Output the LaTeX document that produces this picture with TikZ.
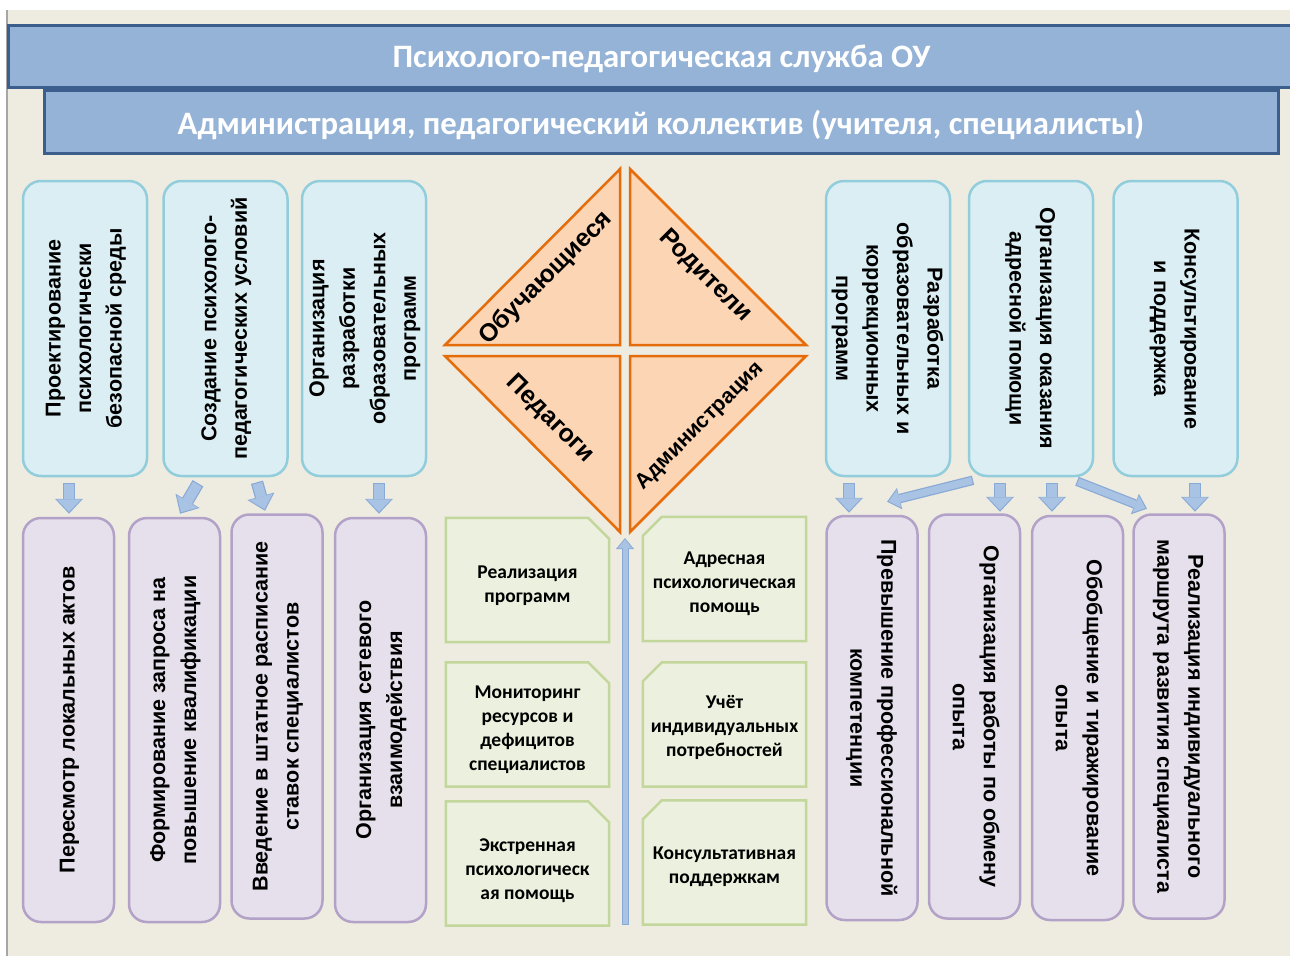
\documentclass[tikz,border=0pt]{standalone}
\usepackage{fontspec}
\setmainfont{Liberation Sans}
\newfontfamily\calib{Carlito}
\usepackage{graphicx}
\usetikzlibrary{arrows.meta,calc}
\pgfdeclarelayer{background}
\pgfsetlayers{background,main}

\definecolor{paper}{HTML}{EEECE1}
\definecolor{frameline}{HTML}{A6A6A6}
\definecolor{bannerfill}{HTML}{95B3D7}
\definecolor{bannerline}{HTML}{3B5E8C}
\definecolor{taskfill}{HTML}{DAEEF3}
\definecolor{taskline}{HTML}{92CDDC}
\definecolor{stepfill}{HTML}{E5E0EC}
\definecolor{stepline}{HTML}{B3A2C7}
\definecolor{notefill}{HTML}{EBF1DE}
\definecolor{noteline}{HTML}{C3D69B}
\definecolor{rolefill}{HTML}{FCD5B5}
\definecolor{roleline}{HTML}{E46C0A}
\definecolor{flowfill}{HTML}{A9C3E4}
\definecolor{flowline}{HTML}{8AAAD6}

\newcommand{\upwards}[1]{\rotatebox{90}{\begin{tabular}{@{}c@{}}#1\end{tabular}}}
\newcommand{\downwards}[1]{\rotatebox{-90}{\begin{tabular}{@{}c@{}}#1\end{tabular}}}
\newcommand{\lowered}[1]{\raisebox{-3pt}[\height][\depth]{#1}}

\begin{document}
\begin{tikzpicture}[x=1pt, y=-1pt,
    banner/.style={draw=bannerline, fill=bannerfill, line width=3pt, text=white,
        font=\calib\bfseries\fontsize{32.7}{38}\selectfont},
    role/.style={draw=roleline, fill=rolefill, line width=2.5pt},
    snip/.style={draw=noteline, fill=notefill, line width=2.5pt},
    flowout/.style={draw=flowline, line width=12.5pt, -{Triangle[width=28pt,length=15pt,line width=0pt]}},
    flowin/.style={draw=flowfill, line width=10pt, -{Triangle[width=24pt,length=12.5pt,line width=0pt]},
        shorten >=1.8pt, shorten <=1.2pt},
    slimout/.style={draw=flowline, line width=9.5pt, -{Triangle[width=22pt,length=13pt,line width=0pt]}},
    slimin/.style={draw=flowfill, line width=7pt, -{Triangle[width=18pt,length=10.5pt,line width=0pt]},
        shorten >=1.8pt, shorten <=1.2pt}]
    \useasboundingbox (0,0) rectangle (1290,956);
    \begin{pgfonlayer}{background}
        \fill[paper] (7,10) rectangle (1290,956);
        \draw[frameline, line width=1.5pt] (7,10) -- (7,956);
    \end{pgfonlayer}

    % headings
    \node[banner, minimum width=1307pt, minimum height=62pt] (service) at (661.5,56) {\lowered{Психолого-педагогическая служба ОУ}};
    \node[banner, minimum width=1234pt, minimum height=63pt] (staff) at (661,121.5) {\lowered{Администрация, педагогический коллектив (учителя, специалисты)}};

    % upper boxes
    \begin{scope}[every node/.style={draw=taskline, fill=taskfill, line width=2.5pt, rounded corners=18pt,
        minimum width=124pt, minimum height=295pt, inner sep=0pt, font=\bfseries\fontsize{21.5}{30.5}\selectfont}]
    \node (b1) at (85,328.5) {\upwards{Проектирование\\психологически\\безопасной  среды}};
    \node (b2) at (225.5,328.5) {\upwards{Создание  психолого-\\педагогических  условий}};
    \node (b3) at (364,328.5) {\upwards{Организация\\разработки\\образовательных\\программ}};
    \node (b4) at (888,328.5) {\downwards{Разработка\\образовательных  и\\коррекционных\\программ}};
    \node (b5) at (1031,328.5) {\downwards{Организация  оказания\\адресной  помощи}};
    \node (b6) at (1175.5,328.5) {\downwards{Консультирование\\и поддержка}};
    \end{scope}

    % lower boxes
    \begin{scope}[every node/.style={draw=stepline, fill=stepfill, line width=2.5pt, rounded corners=18pt,
        minimum width=91pt, minimum height=404pt, inner sep=0pt, font=\bfseries\fontsize{21.5}{31}\selectfont}]
    \node (p1) at (68.5,720) {\upwards{Пересмотр  локальных  актов}};
    \node (p2) at (174.5,720) {\upwards{Формирование  запроса  на\\повышение  квалификации}};
    \node (p3) at (277,716.5) {\upwards{Введение в штатное  расписание\\ставок специалистов}};
    \node (p4) at (380.5,720) {\upwards{Организация  сетевого\\взаимодействия}};
    \node (p5) at (872,718) {\downwards{Превышение  профессиональной\\компетенции}};
    \node (p6) at (974.5,716.5) {\downwards{Организация  работы  по  обмену\\опыта}};
    \node (p7) at (1077.5,718) {\downwards{Обобщение  и  тиражирование\\опыта}};
    \node (p8) at (1179,716.5) {\downwards{Реализация  индивидуального\\маршрута  развития  специалиста}};
    \end{scope}

    % participants
    \filldraw[role] (620,345) -- (620,169) -- (445,345) -- cycle;
    \filldraw[role] (630,345) -- (630,169) -- (806,345) -- cycle;
    \filldraw[role] (620,356) -- (445,356) -- (620,532) -- cycle;
    \filldraw[role] (630,356) -- (806,356) -- (630,532) -- cycle;
    \begin{scope}[every node/.style={font=\bfseries\fontsize{25}{30}\selectfont}]
    \node[rotate=45] (learners) at (546,278) {Обучающиеся};
    \node[rotate=-45] (parents) at (705,276) {Родители};
    \node[rotate=-45] (teachers) at (550,419) {Педагоги};
    \node[rotate=45, font=\bfseries\fontsize{21.5}{26}\selectfont] (admins) at (700,426) {Администрация};
    \end{scope}

    % notes (text sits a little below the middle of each card)
    \begin{scope}[every node/.style={minimum width=163pt, minimum height=124pt, inner sep=0pt, align=center,
        font=\calib\bfseries\fontsize{19.5}{24}\selectfont}]
    \node (g1) at (527.5,586) {Реализация\\программ};
    \node (g2) at (527.5,729.5) {Мониторинг\\ресурсов и\\дефицитов\\специалистов};
    \node (g3) at (527.5,870.5) {Экстренная\\психологическ\\ая помощь};
    \node (g4) at (724.5,584) {Адресная\\психологическая\\помощь};
    \node (g5) at (724.5,727.5) {Учёт\\индивидуальных\\потребностей};
    \node (g6) at (724.5,866.5) {Консультативная\\поддержкам};
    \end{scope}
    \begin{pgfonlayer}{background}
        \foreach \n/\d in {g1/6,g2/5,g3/7}
            \draw[snip] ([yshift=\d pt]\n.south west) -- ([yshift=\d pt]\n.north west)
                -- ([shift={(-21pt,\d pt)}]\n.north east) -- ([shift={(0pt,\d pt-21pt)}]\n.north east)
                -- ([yshift=\d pt]\n.south east) -- cycle;
        \foreach \n/\d in {g4/5,g5/3,g6/4}
            \draw[snip] ([yshift=\d pt]\n.south west) -- ([shift={(0pt,\d pt-19pt)}]\n.north west)
                -- ([shift={(19pt,\d pt)}]\n.north west) -- ([yshift=\d pt]\n.north east)
                -- ([yshift=\d pt]\n.south east) -- cycle;
    \end{pgfonlayer}

    % central arrow
    \coordinate (rise) at (625,925);
    \coordinate (apex) at (625,538);
    \draw[draw=flowline, line width=7pt, -{Triangle[width=18pt,length=11pt,line width=0pt]}] (rise) -- (apex);
    \draw[draw=flowfill, line width=5pt, -{Triangle[width=14.5pt,length=9pt,line width=0pt]},
        shorten >=1.4pt, shorten <=1pt] (rise) -- (apex);

    % arrows between boxes
    \coordinate (t1) at ($(b1.south)+(-16,6)$);    \coordinate (h1) at ($(p1.north)+(0.5,-3)$);
    \coordinate (t2) at ($(b2.south)+(-27.5,6)$);  \coordinate (h2) at ($(p2.north)+(5.5,-3)$);
    \coordinate (t3) at ($(b2.south)+(31.5,5)$);   \coordinate (h3) at ($(p3.north)+(-12,-2.5)$);
    \coordinate (t4) at ($(b3.south)+(15,6)$);     \coordinate (h4) at ($(p4.north)+(-1.5,-3)$);
    \coordinate (t5) at ($(b4.south)+(-39,6)$);    \coordinate (h5) at ($(p5.north)+(-23,-2)$);
    \coordinate (t6) at ($(b5.south)+(-58,3)$);    \coordinate (h6) at ($(p5.north)+(15,-13)$);
    \coordinate (t7) at ($(b5.south)+(-31,6)$);    \coordinate (h7) at ($(p6.north)+(25.5,-1.5)$);
    \coordinate (t8) at ($(b5.south)+(21,6)$);     \coordinate (h8) at ($(p7.north)+(-25.5,-3)$);
    \coordinate (t9) at ($(b5.south)+(46,4)$);     \coordinate (h9) at ($(p8.north)+(-32,-4.5)$);
    \coordinate (t10) at ($(b6.south)+(19.5,6)$);  \coordinate (h10) at ($(p8.north)+(16,-1.5)$);
    \foreach \i in {1,2,3,4,5,7,8,10} {
        \draw[flowout] (t\i) -- (h\i);
        \draw[flowin] (t\i) -- (h\i);
    }
    \foreach \i in {6,9} {
        \draw[slimout] (t\i) -- (h\i);
        \draw[slimin] (t\i) -- (h\i);
    }
\end{tikzpicture}
\end{document}
